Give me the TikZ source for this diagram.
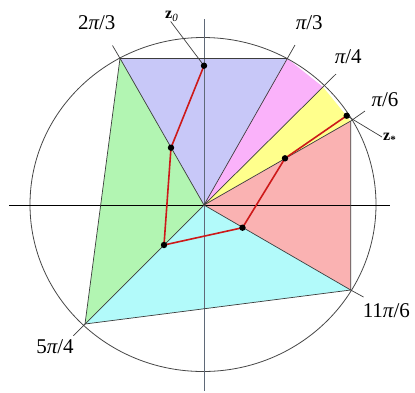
\documentclass[tikz,border=0pt]{standalone}
\usepackage{fontspec}
\setmainfont{Liberation Serif}
\definecolor{cblue}{RGB}{200,200,248}
\definecolor{cmag}{RGB}{250,178,250}
\definecolor{cyel}{RGB}{255,255,140}
\definecolor{csal}{RGB}{250,178,178}
\definecolor{ccyan}{RGB}{178,250,250}
\definecolor{cgreen}{RGB}{178,245,178}
\definecolor{edgegray}{RGB}{60,60,60}
\definecolor{circgray}{RGB}{70,70,70}
\definecolor{vaxis}{RGB}{95,105,120}
\definecolor{redpath}{RGB}{205,25,25}
\begin{document}
\begin{tikzpicture}[x=1pt,y=-1pt,
  edge/.style={draw=edgegray,line width=0.7pt},
  tick/.style={draw=edgegray,line width=0.7pt},
  bigl/.style={anchor=base,inner sep=0pt,font=\fontsize{21}{24}\selectfont},
  zl/.style={anchor=base west,inner sep=0pt,font=\fontsize{16}{18}\selectfont},
  redline/.style={draw=redpath,line width=1.6pt,line join=round},
  dot/.style={fill=black}]
\useasboundingbox (0,0) rectangle (415,392);
% key points
\coordinate (O) at (204,205);
\coordinate (V2) at (120,58.3);
\coordinate (V3) at (287,58.3);
\coordinate (V4) at (323,87);
\coordinate (V6) at (350.7,121);
\coordinate (V11) at (350.7,290);
\coordinate (V5) at (85,324);
\coordinate (T2) at (112.5,45.5);
\coordinate (T3) at (295,45);
\coordinate (T4) at (336,74);
\coordinate (T6) at (365,111);
\coordinate (T11) at (363.5,297);
\coordinate (T5) at (73.3,335.7);
\coordinate (AL) at (9,205);
\coordinate (AR) at (390,205);
\coordinate (AT) at (204,19);
\coordinate (AB) at (204,391);
\coordinate (P0) at (204,65.7);
\coordinate (P1) at (171,147.7);
\coordinate (P2) at (164,245);
\coordinate (P3) at (242.5,227.7);
\coordinate (P4) at (285,158.3);
\coordinate (P5) at (346.7,115.7);
% fills
\fill[cblue] (O) -- (V2) -- (V3) -- cycle;
\fill[cmag] (O) -- (V3) -- (V4) -- cycle;
\fill[cyel] (O) -- (V4) -- (V6) -- cycle;
\fill[csal] (O) -- (V6) -- (V11) -- cycle;
\fill[ccyan] (O) -- (V11) -- (V5) -- cycle;
\fill[cgreen] (O) -- (V5) -- (V2) -- cycle;
% circle
\draw[circgray,line width=0.8pt] (203,204.5) ellipse [x radius=173, y radius=167];
% axes
\draw[black,line width=0.7pt] (AL) -- (AR);
\draw[vaxis,line width=0.7pt] (AT) -- (AB);
% region edges
\path[edge] (V2) -- (V3);
\path[edge] (V6) -- (V11) -- (V5) -- (V2);
\path[edge] (O) -- (V2);
\path[edge] (O) -- (T3);
\path[edge] (O) -- (T4);
\path[edge] (O) -- (V6);
\path[edge] (O) -- (V11);
\path[edge] (O) -- (V5);
% ticks
\path[tick] (V2) -- (T2);
\path[tick] (V6) -- (T6);
\path[tick] (V11) -- (T11);
\path[tick] (V5) -- (T5);
% labels
\node[bigl] (L2) at (96.7,29.3) {2{\itshape π}/3};
\node[bigl] (L3) at (309.3,29.3) {{\itshape π}/3};
\node[bigl] (L4) at (348.3,63.3) {{\itshape π}/4};
\node[bigl] (L6) at (385,106) {{\itshape π}/6};
\node[bigl] (L11) at (386.3,317.7) {11{\itshape π}/6};
\node[bigl] (L5) at (55,353.3) {5{\itshape π}/4};
\node[zl] (Z0) at (165,18.3) {\textbf{z}\raisebox{-3pt}{\fontsize{11}{12}\selectfont\itshape 0}};
\node[zl] (Zs) at (383,140) {\textbf{z}\raisebox{-3pt}{\fontsize{11}{12}\selectfont\bfseries *}};
\coordinate (Z0e) at (170.7,21.5);
\coordinate (Zse) at (382,137);
\path[tick] (Z0e) -- (P0);
\path[tick] (Zse) -- (P5);
% red path
\path[redline] (P0) -- (P1) -- (P2) -- (P3) -- (P4) -- (P5);
\foreach \p in {P0,P1,P2,P3,P4,P5} \fill[dot] (\p) circle (3.2);
\end{tikzpicture}
\end{document}
